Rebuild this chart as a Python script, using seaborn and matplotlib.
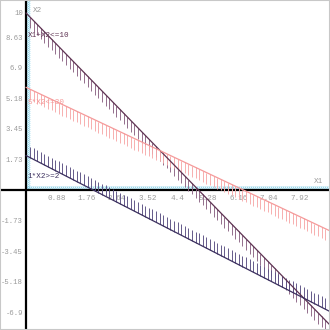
import numpy as np
import pandas as pd
import matplotlib
matplotlib.use("Agg")
import matplotlib.pyplot as plt
import seaborn as sns

# constraint data: a*X1 + b*X2 (<= or >=) c
labels = ["X1+X2<=10", "5*X2<=30", "1*X2>=2"]
coef_a = [2.0, 0.92, 1.0]
coef_b = [1.0, 1.0, 1.0]
rhs = [10.0, 5.8, 1.95]
senses = ["<=", "<=", ">="]
line_colors = ["#5e3352", "#f59a9a", "#3b2f5e"]
hatch_colors = ["#8c6484", "#f7aaaa", "#5a4f82"]

x_ticks = [0.88, 1.76, 2.64, 3.52, 4.4, 5.28, 6.16, 7.04, 7.92]
y_ticks = [-6.9, -5.18, -3.45, -1.73, 1.73, 3.45, 5.18, 6.9, 8.63, 10]
y_tick_labels = ["-6.9", "-5.18", "-3.45", "-1.73", "1.73", "3.45", "5.18", "6.9", "8.63", "10"]
x_tick_labels = ["0.88", "1.76", "2.64", "3.52", "4.4", "5.28", "6.16", "7.04", "7.92"]

XMIN, XMAX = -0.754, 8.81
YMIN, YMAX = -7.9, 10.73

sns.set_style("white")
plt.rcParams['font.family'] = ['Liberation Mono', 'DejaVu Sans Mono']

fig = plt.figure(figsize=(3.3, 3.3), dpi=100)
ax = fig.add_axes([0, 0, 1, 1])
ax.set_xlim(XMIN, XMAX)
ax.set_ylim(YMIN, YMAX)

# px to data
px_x = (XMAX - XMIN) / 330.0
px_y = (YMAX - YMIN) / 330.0

# nonnegativity hatching (cyan)
cyan = "#7fd0ea"
hx = np.arange(0, XMAX, 2 * px_x)
ax.plot(np.vstack([hx, hx + 2 * px_x]), np.vstack([np.zeros_like(hx), np.full_like(hx, 3.5 * px_y)]),
        color=cyan, lw=0.6, zorder=1)
hy = np.arange(0, YMAX, 2 * px_y)
ax.plot(np.vstack([np.zeros_like(hy), np.full_like(hy, 4 * px_x)]), np.vstack([hy, hy + 2.5 * px_y]),
        color=cyan, lw=0.6, zorder=1)

# constraint lines
xs = np.linspace(0, XMAX, 200)
for lab, a, b, c, s, lc, hc in zip(labels, coef_a, coef_b, rhs, senses, line_colors, hatch_colors):
    ys = (c - a * xs) / b
    df = pd.DataFrame({"x": xs, "y": ys})
    sns.lineplot(data=df, x="x", y="y", color=lc, lw=0.9, ax=ax, zorder=4)
    hxs = np.arange(4 * px_x, XMAX, 3.6 * px_x)
    hy0 = (c - a * hxs) / b
    length = 11 * px_y
    if s == "<=":
        ax.vlines(hxs, hy0 - length, hy0, color=hc, lw=0.65, zorder=3)
    else:
        ax.vlines(hxs, hy0, hy0 + length, color=hc, lw=0.65, zorder=3)

# constraint labels
ax.text(0.05, 8.75, labels[0], color=line_colors[0], fontsize=5.5, va="center", ha="left", zorder=5)
ax.text(0.05, 4.95, labels[1], color=line_colors[1], fontsize=5.5, va="center", ha="left", zorder=5)
ax.text(0.05, 0.75, labels[2], color=line_colors[2], fontsize=5.5, va="center", ha="left", zorder=5)

# axes through origin
for side in ["top", "right"]:
    ax.spines[side].set_visible(False)
ax.spines["left"].set_position(("data", 0))
ax.spines["bottom"].set_position(("data", 0))
ax.spines["left"].set_color("black")
ax.spines["bottom"].set_color("black")
ax.spines["left"].set_linewidth(1.6)
ax.spines["bottom"].set_linewidth(1.6)
ax.spines["left"].set_zorder(2)
ax.spines["bottom"].set_zorder(2)

ax.set_xticks(x_ticks)
ax.set_xticklabels(x_tick_labels)
ax.set_yticks(y_ticks)
ax.set_yticklabels(y_tick_labels)
ax.tick_params(axis="both", direction="inout", length=4, width=0.8, color="#333333",
               labelcolor="#9a9a9a", labelsize=5.5, pad=1.5)
ax.tick_params(axis="y", pad=0.3, labelsize=5.2)
ax.set_xlabel("")
ax.set_ylabel("")

ax.text(0.32, YMAX - 10 * px_y, "X2", color="#9a9a9a", fontsize=5.5, ha="center", va="center")
ax.text(XMAX - 12 * px_x, 9 * px_y, "X1", color="#9a9a9a", fontsize=5.5, ha="center", va="center")

# light grey frame around the figure
fig.patches.append(plt.Rectangle((0, 0), 1, 1, transform=fig.transFigure, fill=False,
                                 edgecolor="#c8c8c8", lw=1.5, zorder=10))

fig.savefig("out.png", dpi=100)
